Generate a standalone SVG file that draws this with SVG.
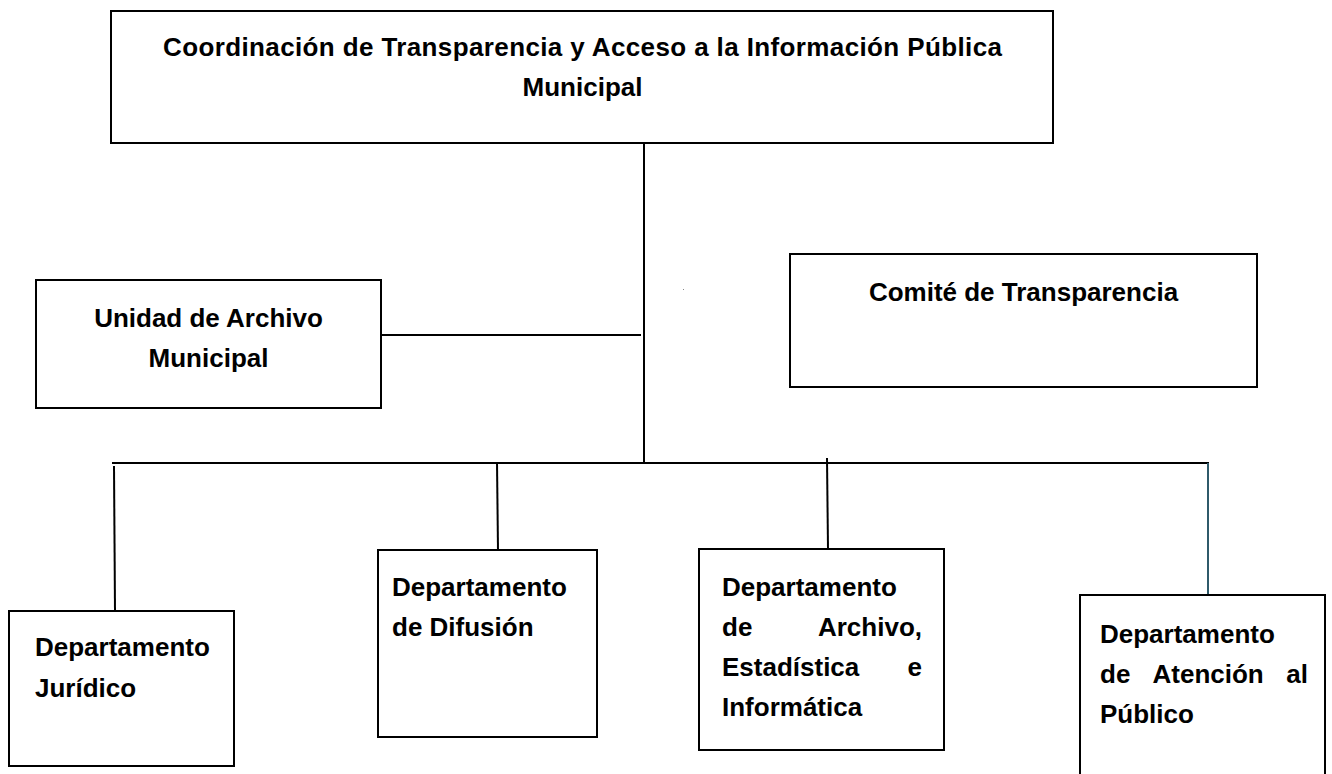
<svg xmlns="http://www.w3.org/2000/svg" width="1332" height="774" viewBox="0 0 1332 774">
<style>
.box{fill:#fff;stroke:#000;stroke-width:2}
.t{font-family:"Liberation Sans",Arial,sans-serif;font-weight:bold;font-size:26px;fill:#000}
.c{text-anchor:middle}
.ln{stroke:#000;stroke-width:2;fill:none}
</style>
<rect width="1332" height="774" fill="#fff"/>
<g id="connectors">
<line class="ln" x1="644" y1="143" x2="644" y2="464"/>
<line class="ln" x1="381" y1="335" x2="641" y2="335"/>
<line class="ln" x1="112" y1="463" x2="1209" y2="463"/>
<line class="ln" x1="114" y1="466" x2="115" y2="611"/>
<line class="ln" x1="497" y1="462" x2="498" y2="550"/>
<line class="ln" x1="827" y1="458" x2="828" y2="549"/>
<line x1="1208" y1="463" x2="1208" y2="595" stroke="#2f5a6a" stroke-width="2"/>
</g>
<rect x="683" y="289" width="1" height="1" fill="#888"/>
<g id="coordinacion">
<rect class="box" x="111" y="11" width="942" height="132"/>
<text class="t c" x="582.5" y="56" textLength="839" lengthAdjust="spacing">Coordinación de Transparencia y Acceso a la Información Pública</text>
<text class="t c" x="582.5" y="96">Municipal</text>
</g>
<g id="unidad">
<rect class="box" x="36" y="280" width="345" height="128"/>
<text class="t c" x="208.5" y="327">Unidad de Archivo</text>
<text class="t c" x="208.5" y="367">Municipal</text>
</g>
<g id="comite">
<rect class="box" x="790" y="254" width="467" height="133"/>
<text class="t c" x="1023.5" y="301">Comité de Transparencia</text>
</g>
<g id="juridico">
<rect class="box" x="9" y="611" width="225" height="155"/>
<text class="t" x="35" y="656">Departamento</text>
<text class="t" x="35" y="697">Jurídico</text>
</g>
<g id="difusion">
<rect class="box" x="378" y="550" width="219" height="187"/>
<text class="t" x="392" y="596">Departamento</text>
<text class="t" x="392" y="636">de Difusión</text>
</g>
<g id="archivo">
<rect class="box" x="699" y="549" width="245" height="201"/>
<text class="t" x="722" y="596">Departamento</text>
<text class="t" y="636"><tspan x="722">de</tspan><tspan x="922" text-anchor="end">Archivo,</tspan></text>
<text class="t" y="676"><tspan x="722">Estadística</tspan><tspan x="922" text-anchor="end">e</tspan></text>
<text class="t" x="722" y="716">Informática</text>
</g>
<g id="atencion">
<rect class="box" x="1080" y="595" width="245" height="190"/>
<text class="t" x="1100" y="643">Departamento</text>
<text class="t" y="683"><tspan x="1100">de</tspan><tspan x="1152.5">Atención</tspan><tspan x="1308" text-anchor="end">al</tspan></text>
<text class="t" x="1100" y="723">Público</text>
</g>
</svg>
